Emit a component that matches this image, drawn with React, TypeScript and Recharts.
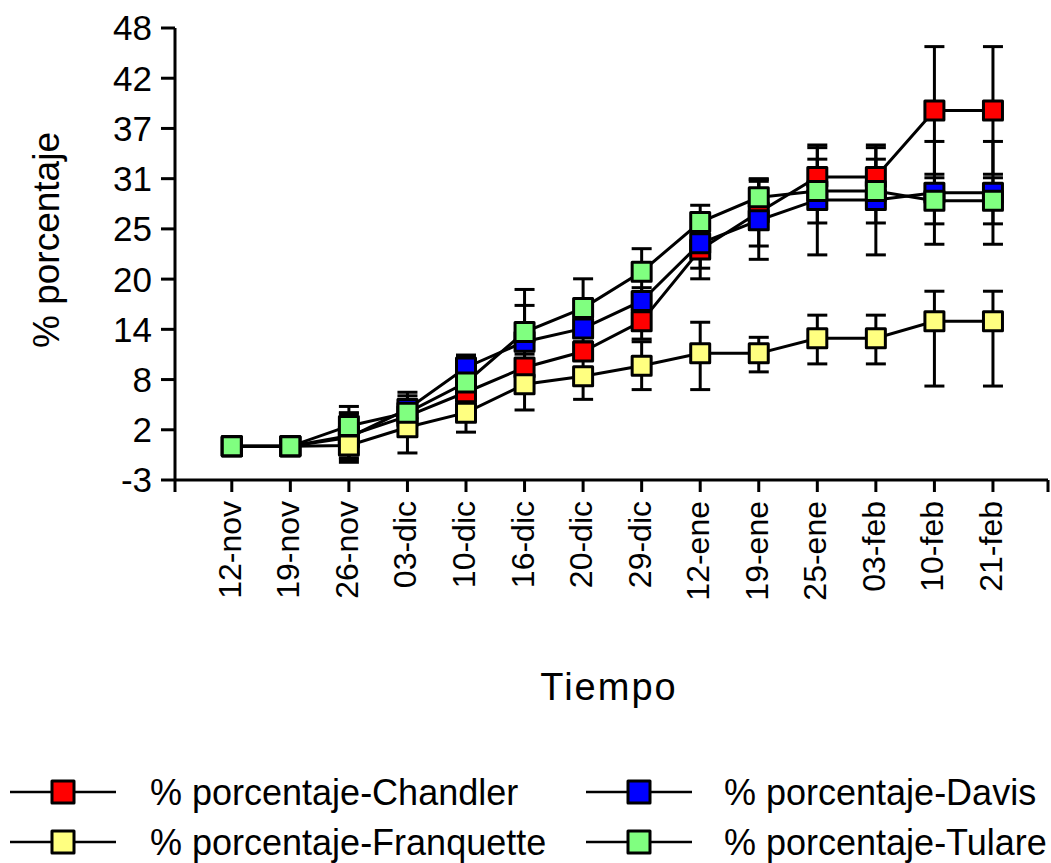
import { LineChart, Line, XAxis, YAxis, ErrorBar } from 'recharts';

const FONT = '"Liberation Sans", Arial, sans-serif';

const fechas = ['12-nov', '19-nov', '26-nov', '03-dic', '10-dic', '16-dic', '20-dic', '29-dic', '12-ene', '19-ene', '25-ene', '03-feb', '10-feb', '21-feb'];

const chandler = [0.8, 0.8, 2.0, 4.2, 6.9, 9.7, 11.5, 14.9, 23.0, 27.2, 31.2, 31.2, 38.7, 38.7];
const chandlerErr = [0, 0, 2.5, 1.9, 2.0, 1.5, 1.0, 2.0, 3.3, 3.8, 3.3, 3.3, 7.2, 7.2];

const davis = [0.8, 0.8, 1.8, 5.0, 9.7, 12.6, 14.1, 17.2, 23.7, 26.3, 28.6, 28.6, 29.4, 29.4];
const davisErr = [0, 0, 2.8, 1.9, 1.4, 4.1, 1.5, 1.5, 2.8, 4.4, 6.2, 6.2, 5.8, 5.8];

const franquette = [0.8, 0.8, 0.9, 2.95, 4.6, 7.8, 8.7, 9.9, 11.3, 11.3, 13.0, 13.0, 14.9, 14.9];
// [abajo, arriba]
const franquetteErr = [[0, 0], [0, 0], [1.6, 1.6], [2.9, 2.9], [2.2, 2.2], [2.9, 2.9], [2.6, 2.6], [2.7, 2.7], [4.1, 3.5], [2.1, 1.8], [2.9, 2.6], [2.9, 2.6], [7.3, 3.4], [7.3, 3.4]];

const tulare = [0.8, 0.8, 3.1, 4.6, 8.0, 13.7, 16.4, 20.5, 26.1, 28.9, 29.6, 29.6, 28.5, 28.5];
const tulareErr = [0, 0, 2.2, 1.9, 3.0, 4.8, 3.3, 2.6, 1.9, 2.0, 3.6, 3.6, 2.6, 2.6];

const yTicks = [-3, 2.667, 8.333, 14, 19.667, 25.333, 31, 36.667, 42.333, 48];
const yTickLabels = ['-3', '2', '8', '14', '20', '25', '31', '37', '42', '48'];
const xTicks = [-0.97, 0, 1, 2, 3, 4, 5, 6, 7, 8, 9, 10, 11, 12, 13, 13.94];

const series = [
    { key: 'chandler', name: '% porcentaje-Chandler', color: '#FF0000' },
    { key: 'davis', name: '% porcentaje-Davis', color: '#0000FF' },
    { key: 'franquette', name: '% porcentaje-Franquette', color: '#FFFF80' },
    { key: 'tulare', name: '% porcentaje-Tulare', color: '#80FF80' },
];

const rows = fechas.map((fecha, i) => ({
    i,
    fecha,
    chandler: chandler[i],
    chandlerErr: chandlerErr[i],
    davis: davis[i],
    davisErr: davisErr[i],
    franquette: franquette[i],
    franquetteErr: franquetteErr[i],
    tulare: tulare[i],
    tulareErr: tulareErr[i],
}));

const squareDot = (fill: string) => (props: any) => {
    const { cx, cy, index } = props;
    if (cx == null || cy == null) return <g key={index} />;
    return (
        <rect key={index} x={cx - 9.5} y={cy - 9.5} width={19} height={19}
            fill={fill} stroke="#000" strokeWidth={3} strokeLinejoin="round" />
    );
};

const XTick = (props: any) => {
    const { x, y, payload } = props;
    const label = Number.isInteger(payload.value) ? fechas[payload.value] : '';
    if (!label) return <g />;
    return (
        <text transform={`translate(${x},${y}) rotate(-90)`} textAnchor="end" dy="0.28em"
            fontSize={32} fontFamily={FONT} fill="#000">
            {label}
        </text>
    );
};

const YTitle = () => (
    <text transform="translate(59,240) rotate(-90)" textAnchor="middle"
        fontSize={37} fontFamily={FONT} fill="#000">
        % porcentaje
    </text>
);

const XTitle = () => (
    <text x={609} y={700} textAnchor="middle" fontSize={38} letterSpacing={2}
        fontFamily={FONT} fill="#000">
        Tiempo
    </text>
);

const legendCols = [
    { lineX: 10, textX: 150 },
    { lineX: 586, textX: 724 },
];
const legendRows = [792, 842];

const Leyenda = () => (
    <svg width={1051} height={863} style={{ position: 'absolute', left: 0, top: 0, pointerEvents: 'none' }}>
        {series.map((s, idx) => {
            const col = legendCols[idx % 2];
            const y = legendRows[Math.floor(idx / 2)];
            return (
                <g key={s.key}>
                    <line x1={col.lineX} x2={col.lineX + 106} y1={y} y2={y} stroke="#000" strokeWidth={2.5} />
                    <rect x={col.lineX + 53 - 11} y={y - 11} width={22} height={22}
                        fill={s.color} stroke="#000" strokeWidth={3} strokeLinejoin="round" />
                    <text x={col.textX} y={y + 13} fontSize={36} fontFamily={FONT} fill="#000">
                        {s.name}
                    </text>
                </g>
            );
        })}
    </svg>
);

export default function App() {
    return (
        <div style={{ position: 'absolute', left: 0, top: 0, width: 1051, height: 863, background: '#fff' }}>
            <LineChart width={1051} height={863} data={rows}
                margin={{ top: 28, right: 3, left: 0, bottom: 253 }}>
                <XAxis dataKey="i" type="number" domain={[-0.97, 13.94]} ticks={xTicks} interval={0}
                    height={130} tick={<XTick />} tickSize={12} tickMargin={9}
                    axisLine={{ stroke: '#000', strokeWidth: 3 }}
                    tickLine={{ stroke: '#000', strokeWidth: 3 }}
                    label={<XTitle />} />
                <YAxis type="number" domain={[-3, 48]} ticks={yTicks} interval={0} width={175}
                    tickFormatter={(v: number) => yTickLabels[yTicks.indexOf(v)] ?? ''}
                    tick={{ fill: '#000', fontSize: 35, fontFamily: FONT }}
                    tickSize={14} tickMargin={9}
                    axisLine={{ stroke: '#000', strokeWidth: 3 }}
                    tickLine={{ stroke: '#000', strokeWidth: 3 }}
                    label={<YTitle />} />
                {series.map((s) => (
                    <Line key={s.key} type="linear" dataKey={s.key} name={s.name}
                        stroke="#000" strokeWidth={3} isAnimationActive={false}
                        dot={squareDot(s.color)} activeDot={false}>
                        <ErrorBar dataKey={`${s.key}Err`} direction="y" width={10}
                            stroke="#000" strokeWidth={3} isAnimationActive={false} />
                    </Line>
                ))}
            </LineChart>
            <Leyenda />
        </div>
    );
}
